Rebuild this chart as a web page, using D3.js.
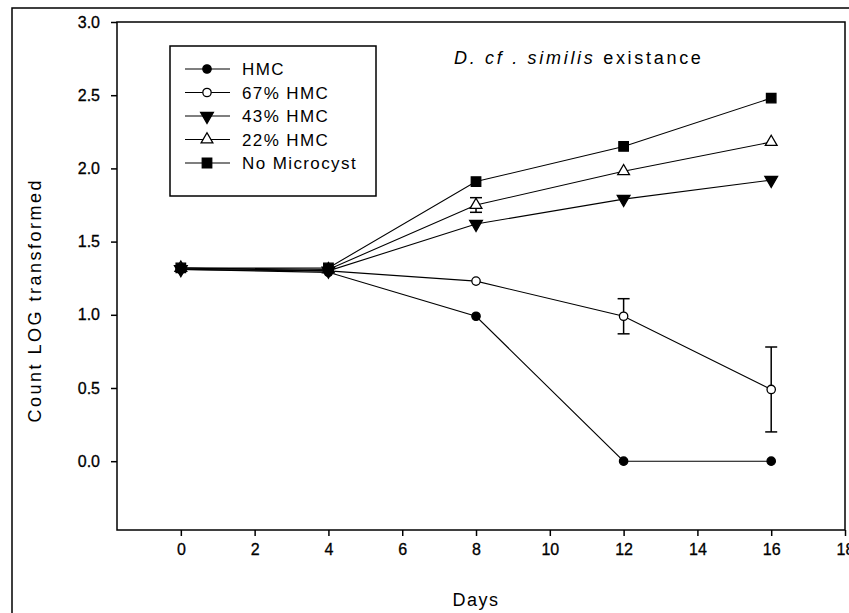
<!DOCTYPE html>
<html>
<head>
<meta charset="utf-8">
<script src="https://cdn.jsdelivr.net/npm/d3@7/dist/d3.min.js"></script>
<style>
  body { margin: 0; background: #fff; }
  svg text { font-family: "Liberation Sans", Arial, sans-serif; fill: #000; }
  svg .tick text { font-family: "Liberation Sans Narrow", "Arial Narrow", "Liberation Sans", sans-serif; }
</style>
</head>
<body>
<div id="plot"></div>
<script>
'use strict';

var days = [0, 4, 8, 12, 16];
var seriesNames = ['HMC', '67% HMC', '43% HMC', '22% HMC', 'No Microcyst'];
var hmc        = [1.31, 1.29, 0.99, 0.0, 0.0];
var hmc67      = [1.32, 1.30, 1.23, 0.99, 0.49];
var hmc43      = [1.31, 1.30, 1.62, 1.79, 1.92];
var hmc22      = [1.32, 1.31, 1.75, 1.98, 2.18];
var noMicro    = [1.32, 1.32, 1.91, 2.15, 2.48];
var err67      = [0, 0, 0, 0.12, 0.29];
var err22      = [0, 0, 0.05, 0, 0];
var xTicks = [0, 2, 4, 6, 8, 10, 12, 14, 16, 18];
var yTicks = [0.0, 0.5, 1.0, 1.5, 2.0, 2.5, 3.0];

var width = 849, height = 613;
var box = {left: 117, top: 22, right: 845, bottom: 530};

var svg = d3.select('#plot')
    .append('svg')
        .attr('width', width)
        .attr('height', height);

// outer frame
svg.append('rect')
    .attr('x', 12).attr('y', 8)
    .attr('width', 860).attr('height', 640)
    .attr('fill', 'none')
    .attr('stroke', '#000')
    .attr('stroke-width', 1.5);

var x = d3.scaleLinear().domain([-1.73, 18]).range([box.left, box.right]);
var y = d3.scaleLinear().domain([-0.47, 3.0]).range([box.bottom, box.top]);

// plot box
svg.append('rect')
    .attr('x', box.left).attr('y', box.top)
    .attr('width', box.right - box.left).attr('height', box.bottom - box.top)
    .attr('fill', 'none')
    .attr('stroke', '#000')
    .attr('stroke-width', 1.5);

var xAxis = svg.append('g')
    .attr('transform', 'translate(0,' + box.bottom + ')')
    .call(d3.axisBottom(x).tickValues(xTicks).tickSize(6).tickSizeOuter(0).tickFormat(d3.format('d')));
var yAxis = svg.append('g')
    .attr('transform', 'translate(' + box.left + ',0)')
    .call(d3.axisLeft(y).tickValues(yTicks).tickSize(6).tickSizeOuter(0).tickFormat(d3.format('.1f')));

[xAxis, yAxis].forEach(function (g) {
    g.attr('font-size', 16).attr('font-family', null);
    g.select('.domain').remove();
    g.selectAll('line').attr('stroke', '#000').attr('stroke-width', 1.5);
    g.selectAll('text').attr('stroke', '#000').attr('stroke-width', 0.3);
});
xAxis.selectAll('text').attr('y', 14).attr('dy', '0.71em');
yAxis.selectAll('text').attr('x', -17);

// axis titles
svg.append('text')
    .attr('x', x(8)).attr('y', 606)
    .attr('text-anchor', 'middle')
    .style('font-size', '18px')
    .style('letter-spacing', '1.5px')
    .text('Days');
svg.append('text')
    .attr('transform', 'translate(41,' + y(1.1) + ') rotate(-90)')
    .attr('text-anchor', 'middle')
    .style('font-size', '18px')
    .style('letter-spacing', '2.5px')
    .text('Count LOG transformed');

// title
var title = svg.append('text')
    .attr('x', 454).attr('y', 64)
    .style('font-size', '18px')
    .style('letter-spacing', '2.7px');
title.append('tspan').style('font-style', 'italic').text('D. cf . similis');
title.append('tspan').text(' existance');

var series = [
    {name: seriesNames[0], values: hmc,     err: null,  shape: 'circle',   fill: '#000'},
    {name: seriesNames[1], values: hmc67,   err: err67, shape: 'circle',   fill: '#fff'},
    {name: seriesNames[2], values: hmc43,   err: null,  shape: 'down',     fill: '#000'},
    {name: seriesNames[3], values: hmc22,   err: err22, shape: 'triangle', fill: '#fff'},
    {name: seriesNames[4], values: noMicro, err: null,  shape: 'square',   fill: '#000'}
];

function symbolPath(shape) {
    if (shape === 'circle') return d3.symbol(d3.symbolCircle, 55)();
    if (shape === 'square') return d3.symbol(d3.symbolSquare, 90)();
    if (shape === 'triangle') return d3.symbol(d3.symbolTriangle, 60)();
    return d3.symbol(d3.symbolTriangle, 70)();
}

function drawMarker(g, s, px, py) {
    g.append('path')
        .attr('d', symbolPath(s.shape))
        .attr('transform', 'translate(' + px + ',' + py + ')' + (s.shape === 'down' ? ' rotate(180)' : ''))
        .attr('fill', s.fill)
        .attr('stroke', '#000')
        .attr('stroke-width', 1.3);
}

var line = d3.line()
    .x(function (d, i) { return x(days[i]); })
    .y(function (d) { return y(d); });

series.forEach(function (s) {
    svg.append('path')
        .datum(s.values)
        .attr('d', line)
        .attr('fill', 'none')
        .attr('stroke', '#000')
        .attr('stroke-width', 1.1);
});

// error bars
series.forEach(function (s) {
    if (!s.err) return;
    s.err.forEach(function (e, i) {
        if (!e) return;
        var cx = x(days[i]);
        var g = svg.append('g').attr('stroke', '#000').attr('stroke-width', 1.5);
        g.append('line').attr('x1', cx).attr('x2', cx).attr('y1', y(s.values[i] + e)).attr('y2', y(s.values[i] - e));
        g.append('line').attr('x1', cx - 6).attr('x2', cx + 6).attr('y1', y(s.values[i] + e)).attr('y2', y(s.values[i] + e));
        g.append('line').attr('x1', cx - 6).attr('x2', cx + 6).attr('y1', y(s.values[i] - e)).attr('y2', y(s.values[i] - e));
    });
});

// markers
series.forEach(function (s) {
    var g = svg.append('g');
    s.values.forEach(function (v, i) {
        drawMarker(g, s, x(days[i]), y(v));
    });
});

// legend
var legend = svg.append('g');
legend.append('rect')
    .attr('x', 170).attr('y', 46)
    .attr('width', 206).attr('height', 150)
    .attr('fill', '#fff')
    .attr('stroke', '#000')
    .attr('stroke-width', 1.5);
series.forEach(function (s, i) {
    var ly = 69 + i * 23.5;
    legend.append('line')
        .attr('x1', 185).attr('x2', 230)
        .attr('y1', ly).attr('y2', ly)
        .attr('stroke', '#000').attr('stroke-width', 1.2);
    drawMarker(legend, s, 207, ly);
    legend.append('text')
        .attr('x', 242).attr('y', ly + 6)
        .style('font-size', '17px')
        .style('letter-spacing', '1.4px')
        .text(s.name);
});
</script>
</body>
</html>
